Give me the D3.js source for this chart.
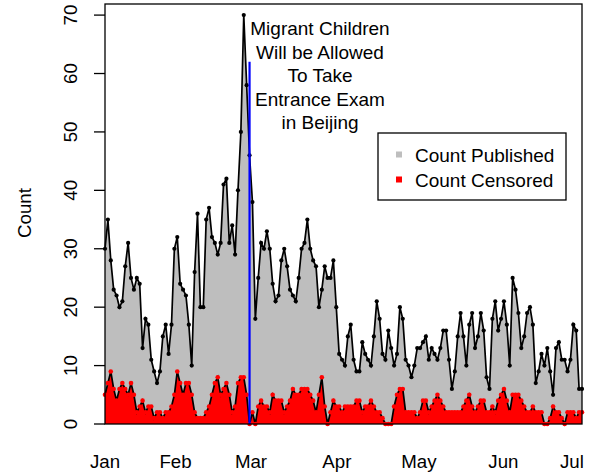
<!DOCTYPE html>
<html>
<head>
<meta charset="utf-8">
<script src="https://cdn.jsdelivr.net/npm/d3@7"></script>
<style>
  body { margin: 0; background: #fff; }
  text { font-family: "Liberation Sans", Arial, Helvetica, sans-serif; fill: #000; }
</style>
</head>
<body>
<script>
/*
		 DATA
		 Daily counts of posts
*/
var published = [30, 35, 28, 23, 22, 20, 21, 27, 31, 25, 23, 25, 24, 13, 18, 17, 11, 9, 7, 9,
                 15, 17, 12, 17, 30, 32, 24, 23, 22, 17, 10, 26, 36, 20, 20, 35, 37, 32, 31, 29,
                 31, 41, 42, 31, 34, 29, 40, 50, 70, 58, 46, 38, 18, 25, 31, 30, 33, 30, 24, 21,
                 22, 28, 30, 27, 23, 22, 21, 25, 30, 31, 35, 30, 28, 27, 20, 23, 27, 25, 25, 28,
                 20, 12, 11, 10, 15, 17, 11, 9, 9, 14, 12, 11, 10, 15, 21, 18, 12, 11, 16, 13,
                 10, 12, 20, 18, 11, 10, 8, 10, 13, 13, 14, 15, 11, 13, 12, 11, 13, 16, 16, 11,
                 6, 9, 15, 19, 15, 10, 17, 19, 13, 15, 19, 16, 8, 6, 18, 21, 16, 18, 21, 17,
                 10, 25, 23, 19, 13, 15, 19, 20, 17, 7, 9, 12, 10, 13, 9, 5, 13, 14, 11, 11,
                 9, 11, 17, 16, 6, 6];

var censored = [5, 7, 9, 6, 4, 6, 7, 6, 5, 7, 5, 2, 3, 4, 2, 3, 3, 1, 2, 2,
                1, 2, 2, 3, 5, 9, 7, 5, 7, 7, 5, 2, 1, 1, 1, 2, 3, 5, 7, 8,
                5, 6, 7, 5, 2, 3, 7, 8, 8, 5, 0, 2, 0, 3, 4, 3, 3, 2, 5, 4,
                4, 4, 2, 3, 4, 6, 5, 5, 6, 6, 6, 5, 4, 2, 5, 8, 3, 0, 2, 4,
                3, 3, 2, 3, 3, 3, 3, 4, 4, 2, 3, 3, 4, 3, 2, 2, 1, 0, 0, 0,
                3, 5, 6, 6, 2, 2, 2, 2, 1, 2, 4, 4, 2, 3, 4, 5, 4, 3, 2, 2,
                2, 2, 2, 2, 3, 4, 5, 3, 2, 3, 4, 4, 2, 2, 3, 2, 4, 5, 6, 4,
                2, 5, 5, 5, 4, 3, 2, 2, 3, 2, 2, 2, 0, 0, 1, 3, 2, 2, 1, 0,
                2, 2, 2, 1, 2, 2];

var monthLabels = ["Jan", "Feb", "Mar", "Apr", "May", "Jun", "Jul"];
var monthTicks = [0, 24.4, 50.5, 80.2, 108.6, 137.8, 161.5];   // position in days
var yTicks = [0, 10, 20, 30, 40, 50, 60, 70];

var eventDay = 50;
var eventTop = 62;
var eventText = ["Migrant Children", "Will be Allowed", "To Take", "Entrance Exam", "in Beijing"];

var legendLabels = ["Count Published", "Count Censored"];
var legendColors = ["#bebebe", "#ff0000"];

/*
		 LAYOUT
*/
var width = 598;
var height = 476;
var margin = {top: 4, right: 16, bottom: 52, left: 105};

var x = d3.scaleLinear()
    .domain([0, published.length - 1])
    .range([margin.left, width - margin.right]);

var y = d3.scaleLinear()
    .domain([0, 71.9])
    .range([height - margin.bottom, margin.top]);

var svg = d3.select("body").append("svg")
    .attr("width", width)
    .attr("height", height);

var area = d3.area()
    .x(function(d, i) { return x(i); })
    .y0(y(0))
    .y1(function(d) { return y(d); });

var line = d3.line()
    .x(function(d, i) { return x(i); })
    .y(function(d) { return y(d); });

/*
		 PUBLISHED SERIES
*/
svg.append("path")
    .datum(published)
    .attr("d", area)
    .style("fill", "#bebebe");

svg.append("path")
    .datum(published)
    .attr("d", line)
    .style("fill", "none")
    .style("stroke", "#000")
    .style("stroke-width", 1.7);

svg.append("g").selectAll("circle")
    .data(published)
  .enter().append("circle")
    .attr("cx", function(d, i) { return x(i); })
    .attr("cy", function(d) { return y(d); })
    .attr("r", 2.1)
    .style("fill", "#000");

/*
		 CENSORED SERIES
*/
svg.append("path")
    .datum(censored)
    .attr("d", area)
    .style("fill", "#ff0000");

svg.append("path")
    .datum(censored)
    .attr("d", line)
    .style("fill", "none")
    .style("stroke", "#000")
    .style("stroke-width", 1.7);

svg.append("g").selectAll("circle")
    .data(censored)
  .enter().append("circle")
    .attr("cx", function(d, i) { return x(i); })
    .attr("cy", function(d) { return y(d); })
    .attr("r", 2.3)
    .style("fill", "#ff0000");

/*
		 EVENT LINE AND NOTE
*/
svg.append("line")
    .attr("x1", x(eventDay)).attr("x2", x(eventDay))
    .attr("y1", y(0)).attr("y2", y(eventTop))
    .style("stroke", "#0000ff")
    .style("stroke-width", 2.2);

svg.append("g").selectAll("text")
    .data(eventText)
  .enter().append("text")
    .attr("x", 320)
    .attr("y", function(d, i) { return 35 + i * 23.5; })
    .style("text-anchor", "middle")
    .style("font-size", "19px")
    .text(function(d) { return d; });

/*
		 BOX AND AXES
*/
svg.append("rect")
    .attr("x", margin.left)
    .attr("y", margin.top)
    .attr("width", width - margin.left - margin.right)
    .attr("height", height - margin.top - margin.bottom)
    .style("fill", "none")
    .style("stroke", "#000")
    .style("stroke-width", 1.3);

var yAxis = svg.append("g");

yAxis.selectAll("line")
    .data(yTicks)
  .enter().append("line")
    .attr("x1", margin.left - 11).attr("x2", margin.left)
    .attr("y1", function(d) { return y(d); })
    .attr("y2", function(d) { return y(d); })
    .style("stroke", "#000")
    .style("stroke-width", 1.3);

yAxis.selectAll("text")
    .data(yTicks)
  .enter().append("text")
    .attr("transform", function(d) { return "translate(77," + y(d) + ") rotate(-90)"; })
    .style("text-anchor", "middle")
    .style("font-size", "18.7px")
    .text(function(d) { return d; });

svg.append("text")
    .attr("transform", "translate(31,213) rotate(-90)")
    .style("text-anchor", "middle")
    .style("font-size", "18.7px")
    .text("Count");

svg.append("g").selectAll("text")
    .data(monthLabels)
  .enter().append("text")
    .attr("x", function(d, i) { return x(monthTicks[i]); })
    .attr("y", 468)
    .style("text-anchor", "middle")
    .style("font-size", "18.7px")
    .text(function(d) { return d; });

/*
		 LEGEND
*/
var legend = svg.append("g");

legend.append("rect")
    .attr("x", 378).attr("y", 133)
    .attr("width", 188).attr("height", 67)
    .style("fill", "#fff")
    .style("stroke", "#000")
    .style("stroke-width", 1.3);

legend.selectAll(".key")
    .data(legendLabels)
  .enter().append("rect")
    .attr("class", "key")
    .attr("x", 396)
    .attr("y", function(d, i) { return 151.5 + i * 25; })
    .attr("width", 6).attr("height", 6)
    .style("fill", function(d, i) { return legendColors[i]; });

legend.selectAll("text")
    .data(legendLabels)
  .enter().append("text")
    .attr("x", 415)
    .attr("y", function(d, i) { return 161.5 + i * 25; })
    .style("font-size", "19px")
    .text(function(d) { return d; });
</script>
</body>
</html>
